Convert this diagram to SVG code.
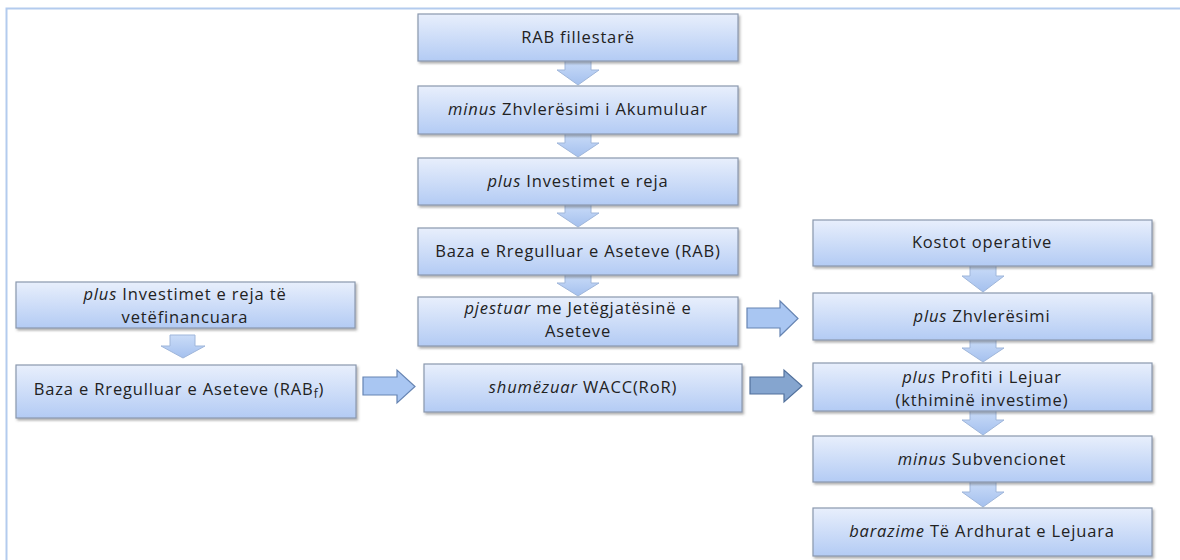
<svg xmlns="http://www.w3.org/2000/svg" width="1180" height="560" viewBox="0 0 1180 560">
<defs>
<linearGradient id="boxg" x1="0" y1="0" x2="0" y2="1">
<stop offset="0" stop-color="#e8effc"/>
<stop offset="1" stop-color="#b3cbf4"/>
</linearGradient>
<linearGradient id="arrg" x1="0" y1="0" x2="0" y2="1">
<stop offset="0" stop-color="#cadcf8"/>
<stop offset="1" stop-color="#a4c0ee"/>
</linearGradient>
<filter id="sh" x="-5%" y="-10%" width="110%" height="130%">
<feDropShadow dx="1.5" dy="2" stdDeviation="1.2" flood-color="#555" flood-opacity="0.45"/>
</filter>
</defs>
<style>
.box{fill:url(#boxg);stroke:#8a98ae;stroke-width:1.2;filter:url(#sh)}
.dn{fill:url(#arrg);stroke:#9fb6da;stroke-width:1}
.rt{fill:#a9c6f2;stroke:#6684b2;stroke-width:1.2}
.rt2{fill:#85a5cf;stroke:#52719c;stroke-width:1.2}
text{font-family:"Open Sans","Liberation Sans",sans-serif;font-size:16.5px;letter-spacing:0.85px;fill:#222;text-anchor:middle}
.i{font-style:italic}
</style>
<rect width="1180" height="560" fill="#ffffff"/>
<g id="frame" fill="none" stroke="#b3cbee" stroke-width="2">
<path d="M1180 8.5 H6.5 V560"/>
</g>
<g id="connectors">
<path class="dn" d="M565 60 H591 V70 H599 L578 85 L557 70 H565 Z"/>
<path class="dn" d="M565 133 H591 V143 H599 L578 157 L557 143 H565 Z"/>
<path class="dn" d="M565 204 H591 V213 H599 L578 227 L557 213 H565 Z"/>
<path class="dn" d="M565 274 H591 V283 H599 L578 296 L557 283 H565 Z"/>
<path class="dn" d="M970 265 H996 V276 H1004 L983 292 L962 276 H970 Z"/>
<path class="dn" d="M970 339 H996 V348 H1004 L983 362 L962 348 H970 Z"/>
<path class="dn" d="M970 410 H996 V420 H1004 L983 435 L962 420 H970 Z"/>
<path class="dn" d="M970 481 H996 V492 H1004 L983 507 L962 492 H970 Z"/>
<path class="dn" d="M170 335 H195 V346 H205 L183 358 L161 346 H170 Z"/>
<path class="rt" d="M363 377 H397 V370 L415 386.5 L397 403 V395 H363 Z"/>
<path class="rt" d="M747 308 H780 V301 L798 318.5 L780 336 V328 H747 Z"/>
<path class="rt2" d="M750 377 H784 V370 L802 386 L784 402 V394 H750 Z"/>
</g>
<g id="n1"><rect class="box" x="418" y="14" width="320" height="47"/><text x="578" y="43">RAB fillestarë</text></g>
<g id="n2"><rect class="box" x="418" y="86" width="320" height="48"/><text x="578" y="115"><tspan class="i">minus</tspan> Zhvlerësimi i Akumuluar</text></g>
<g id="n3"><rect class="box" x="418" y="158" width="320" height="47"/><text x="578" y="187"><tspan class="i">plus</tspan> Investimet e reja</text></g>
<g id="n4"><rect class="box" x="418" y="228" width="320" height="47"/><text x="578" y="257">Baza e Rregulluar e Aseteve (RAB)</text></g>
<g id="n5"><rect class="box" x="418" y="297" width="320" height="49"/><text x="578" y="314"><tspan class="i">pjestuar</tspan> me Jetëgjatësinë e</text><text x="578" y="337">Aseteve</text></g>
<g id="n6"><rect class="box" x="424" y="364" width="318" height="48"/><text x="583" y="393"><tspan class="i">shumëzuar</tspan> WACC(RoR)</text></g>
<g id="n7"><rect class="box" x="16" y="282" width="339" height="46"/><text x="185" y="300"><tspan class="i">plus</tspan> Investimet e reja të</text><text x="185" y="323">vetëfinancuara</text></g>
<g id="n8"><rect class="box" x="16" y="365" width="340" height="53"/><text x="179" y="395">Baza e Rregulluar e Aseteve (RAB<tspan font-size="12" dy="3">f</tspan><tspan dy="-3">)</tspan></text></g>
<g id="n9"><rect class="box" x="813" y="220" width="339" height="46"/><text x="982" y="248">Kostot operative</text></g>
<g id="n10"><rect class="box" x="813" y="293" width="339" height="47"/><text x="982" y="322"><tspan class="i">plus</tspan> Zhvlerësimi</text></g>
<g id="n11"><rect class="box" x="813" y="363" width="339" height="48"/><text x="982" y="383"><tspan class="i">plus</tspan> Profiti i Lejuar</text><text x="982" y="406">(kthiminë investime)</text></g>
<g id="n12"><rect class="box" x="813" y="436" width="339" height="46"/><text x="982" y="465"><tspan class="i">minus</tspan> Subvencionet</text></g>
<g id="n13"><rect class="box" x="813" y="508" width="339" height="48"/><text x="982" y="537"><tspan class="i">barazime</tspan> Të Ardhurat e Lejuara</text></g>
</svg>
